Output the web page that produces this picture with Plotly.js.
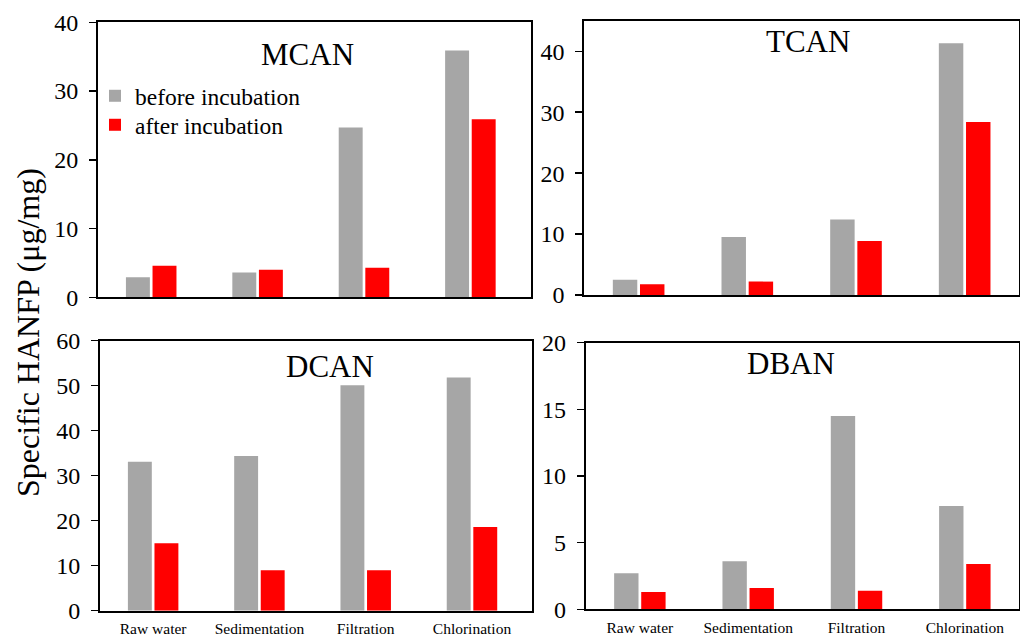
<!DOCTYPE html>
<html>
<head>
<meta charset="utf-8">
<script src="https://cdn.plot.ly/plotly-3.0.1.min.js"></script>
<style>
  html, body { margin: 0; padding: 0; background: #ffffff; }
  #chart { width: 1020px; height: 639px; }
</style>
</head>
<body>
<div id="chart"></div>
<script>
// Treatment stages along the x axis
const categories = ['Raw water', 'Sedimentation', 'Filtration', 'Chlorination'];

// Specific HANFP (µg/mg) per compound, before and after incubation
const mcanBefore = [2.9, 3.6, 24.7, 35.9];
const mcanAfter  = [4.6, 4.0, 4.3, 25.9];
const tcanBefore = [2.5, 9.5, 12.4, 41.3];
const tcanAfter  = [1.75, 2.2, 8.85, 28.4];
const dcanBefore = [33.1, 34.4, 50.1, 51.8];
const dcanAfter  = [15.0, 9.0, 9.0, 18.6];
const dbanBefore = [2.7, 3.6, 14.5, 7.75];
const dbanAfter  = [1.3, 1.6, 1.4, 3.4];

const panelNames = ['MCAN', 'TCAN', 'DCAN', 'DBAN'];
const seriesNames = ['before incubation', 'after incubation'];

const W = 1020, H = 639;
const FONT = 'Liberation Serif';
const GREY = '#a6a6a6', RED = '#ff0000';

const panels = [
  { before: mcanBefore, after: mcanAfter, xa: 'x',  ya: 'y'  },
  { before: tcanBefore, after: tcanAfter, xa: 'x2', ya: 'y2' },
  { before: dcanBefore, after: dcanAfter, xa: 'x3', ya: 'y3' },
  { before: dbanBefore, after: dbanAfter, xa: 'x4', ya: 'y4' }
];

const traces = [];
panels.forEach((p, i) => {
  traces.push({
    type: 'bar', x: categories, y: p.before, xaxis: p.xa, yaxis: p.ya,
    name: seriesNames[0], legend: 'legend', showlegend: i === 0,
    marker: { color: GREY }, hoverinfo: 'x+y'
  });
  traces.push({
    type: 'bar', x: categories, y: p.after, xaxis: p.xa, yaxis: p.ya,
    name: seriesNames[1], legend: 'legend2', showlegend: i === 0,
    marker: { color: RED }, hoverinfo: 'x+y'
  });
});

// helpers: pixel box -> paper fractions
const px = v => v / W;
const py = v => 1 - v / H;

function xAxis(left, right, rangeMax, labels) {
  return {
    domain: [px(left), px(right)],
    range: [-0.5, rangeMax],
    showline: true, mirror: true, linecolor: '#000', linewidth: 2,
    ticks: '', showgrid: false, zeroline: false,
    showticklabels: labels,
    tickfont: { family: FONT, size: 15.5, color: '#000' },
    ticklabelstandoff: 3,
    fixedrange: true
  };
}
function yAxis(top, bottom, rangeMax, dtick, anchor) {
  return {
    domain: [py(bottom), py(top)],
    range: [0, rangeMax], dtick: dtick, anchor: anchor,
    showline: true, mirror: true, linecolor: '#000', linewidth: 2,
    ticks: 'outside', ticklen: 7, tickwidth: 1.5, tickcolor: '#000',
    showgrid: false, zeroline: false,
    tickfont: { family: FONT, size: 24, color: '#000' },
    ticklabelstandoff: 6,
    fixedrange: true
  };
}

function legendBox(yCenter) {
  return {
    x: px(95), y: py(yCenter), xanchor: 'left', yanchor: 'middle',
    bgcolor: 'rgba(0,0,0,0)', borderwidth: 0,
    font: { family: FONT, size: 23.5, color: '#000' },
    itemwidth: 30
  };
}

const titleFont = { family: FONT, size: 31, color: '#000' };
const panelTitlePos = [[307, 54], [808, 41], [330, 366], [791, 363]];

const annotations = panelNames.map((name, i) => ({
  text: name, xref: 'paper', yref: 'paper',
  x: px(panelTitlePos[i][0]), y: py(panelTitlePos[i][1]),
  xanchor: 'center', yanchor: 'middle', showarrow: false, font: titleFont
}));
annotations.push({
  text: 'Specific HANFP (μg/mg)', xref: 'paper', yref: 'paper',
  x: px(28), y: py(333), xanchor: 'center', yanchor: 'middle',
  textangle: -90, showarrow: false,
  font: { family: FONT, size: 32, color: '#000' }
});

const layout = {
  width: W, height: H,
  margin: { l: 0, r: 0, t: 0, b: 0, autoexpand: false },
  paper_bgcolor: '#fff', plot_bgcolor: '#fff',
  font: { family: FONT, color: '#000' },
  barmode: 'group', bargap: 0.5, bargroupgap: 0.1,
  showlegend: true,
  legend: legendBox(96),
  legend2: legendBox(125),
  xaxis:  xAxis(98, 530.5, 3.565, false),
  xaxis2: xAxis(584.3, 1019, 3.5, false),
  xaxis3: xAxis(100, 531.5, 3.56, true),
  xaxis4: xAxis(585.7, 1019, 3.5, true),
  yaxis:  yAxis(22.3, 297.3, 40, 10, 'x'),
  yaxis2: yAxis(20.8, 295, 45, 10, 'x2'),
  yaxis3: yAxis(340.7, 610.7, 60, 10, 'x3'),
  yaxis4: yAxis(342.7, 609.3, 20, 5, 'x4'),
  annotations: annotations
};
layout.xaxis.anchor = 'y';
layout.xaxis2.anchor = 'y2';
layout.xaxis3.anchor = 'y3';
layout.xaxis4.anchor = 'y4';

Plotly.newPlot('chart', traces, layout, { displayModeBar: false, staticPlot: true });
</script>
</body>
</html>
